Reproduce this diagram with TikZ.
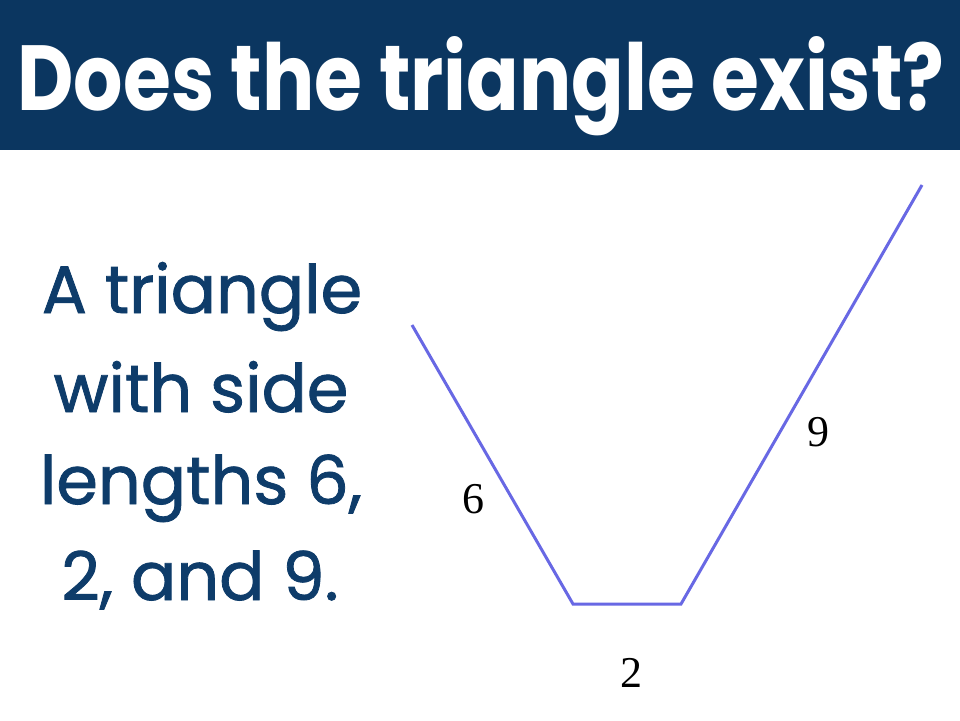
\documentclass[tikz,border=0pt]{standalone}
\usepackage{fontspec}
\setmainfont{Poppins}
\newfontfamily\bodyfont{Poppins}[FakeBold=1.2]
\newfontfamily\numfont{Liberation Serif}
\definecolor{banner}{RGB}{11,54,96}
\definecolor{bodytext}{RGB}{14,60,106}
\definecolor{sideline}{RGB}{104,104,228}
\begin{document}
\begin{tikzpicture}[x=1pt,y=-1pt,
  titletext/.style={anchor=base,inner sep=0pt,text=white,font=\fontsize{100}{100}\selectfont\bfseries},
  bodyline/.style={anchor=base,inner sep=0pt,text=bodytext,font=\bodyfont\fontsize{67}{67}\selectfont},
  sidelabel/.style={inner sep=0pt,text=black,font=\numfont\fontsize{44}{44}\selectfont},
  side/.style={draw=sideline,line width=3pt,line join=miter}]
\useasboundingbox (0,0) rectangle (960,720);
\fill[white] (0,0) rectangle (960,720);
\fill[banner] (0,0) rectangle (960,150);
\node[titletext] (title) at (481,110) {\resizebox{927pt}{74pt}{Does the triangle exist?}};
\node[bodyline] (l1) at (202,313) {A triangle};
\node[bodyline] (l2) at (201,412) {with side};
\node[bodyline] (l3) at (201,504) {lengths 6,};
\node[bodyline] (l4) at (200,600) {2, and 9.};
\coordinate (A) at (412,325);
\coordinate (B) at (573,604);
\coordinate (C) at (681,604);
\coordinate (D) at (922,185);
\draw[side] (A) -- (B) -- (C) -- (D);
\node[sidelabel] (six) at (473,499) {6};
\node[sidelabel] (nine) at (818,432) {9};
\node[sidelabel] (two) at (631,673) {2};
\end{tikzpicture}
\end{document}
